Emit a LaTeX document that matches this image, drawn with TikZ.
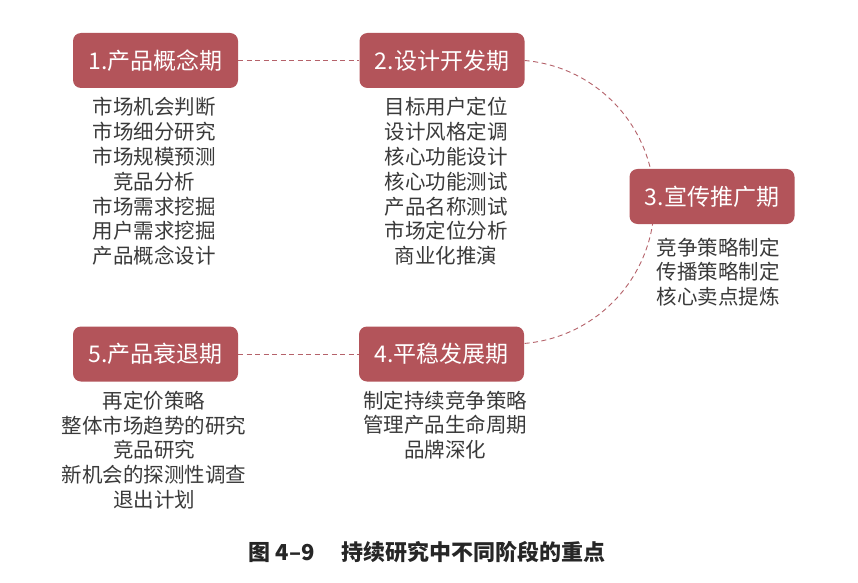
\documentclass[tikz,border=0pt]{standalone}
\usepackage{fontspec}
\usetikzlibrary{backgrounds}
\newfontfamily\cjk{Noto Sans CJK SC}
\definecolor{boxred}{HTML}{B3545A}
\definecolor{dashred}{HTML}{B5626A}
\definecolor{txtgray}{HTML}{3A3A3A}
\begin{document}
\begin{tikzpicture}[x=1pt,y=1pt,
  stagebox/.style={draw=none,fill=boxred,rounded corners=8pt,minimum width=165pt,minimum height=55pt,
    text=white,inner sep=0pt,font=\cjk\fontsize{23}{26}\selectfont},
  itemlist/.style={align=center,text=txtgray,inner sep=0pt,font=\cjk\fontsize{20.5}{24.8}\selectfont},
  link/.style={draw=dashred,line width=0.9pt,dash pattern=on 5pt off 3.5pt}]
\useasboundingbox (0,0) rectangle (858,582);
% stage boxes
\node[stagebox] (B1) at (155.5,521.5) {1.产品概念期};
\node[stagebox] (B2) at (442,521.5) {2.设计开发期};
\node[stagebox] (B3) at (712,385.5) {3.宣传推广期};
\node[stagebox] (B4) at (441.5,228) {4.平稳发展期};
\node[stagebox] (B5) at (155.5,228) {5.产品衰退期};
% connectors (behind boxes)
\begin{pgfonlayer}{background}
\fill[white] (0,0) rectangle (858,582);
\path[link] (B1.east) -- (B2.west);
\path[link] (B5.east) -- (B4.west);
\path[link] (B2.east) arc[start angle=85,end angle=-85,radius=142];
\end{pgfonlayer}
% item lists
\node[itemlist] (L1) at (154,400.5) {市场机会判断\\市场细分研究\\市场规模预测\\竞品分析\\市场需求挖掘\\用户需求挖掘\\产品概念设计};
\node[itemlist] (L2) at (446,400.5) {目标用户定位\\设计风格定调\\核心功能设计\\核心功能测试\\产品名称测试\\市场定位分析\\商业化推演};
\node[itemlist] (L3) at (718,310) {竞争策略制定\\传播策略制定\\核心卖点提炼};
\node[itemlist] (L4) at (445,157) {制定持续竞争策略\\管理产品生命周期\\品牌深化};
\node[itemlist] (L5) at (154,132) {再定价策略\\整体市场趋势的研究\\竞品研究\\新机会的探测性调查\\退出计划};
% caption
\node[text=black!85,inner sep=0pt,font=\cjk\bfseries\fontsize{22}{25}\selectfont] (cap) at (427,30) {图 4–9\hspace{1.2em}持续研究中不同阶段的重点};
\end{tikzpicture}
\end{document}
